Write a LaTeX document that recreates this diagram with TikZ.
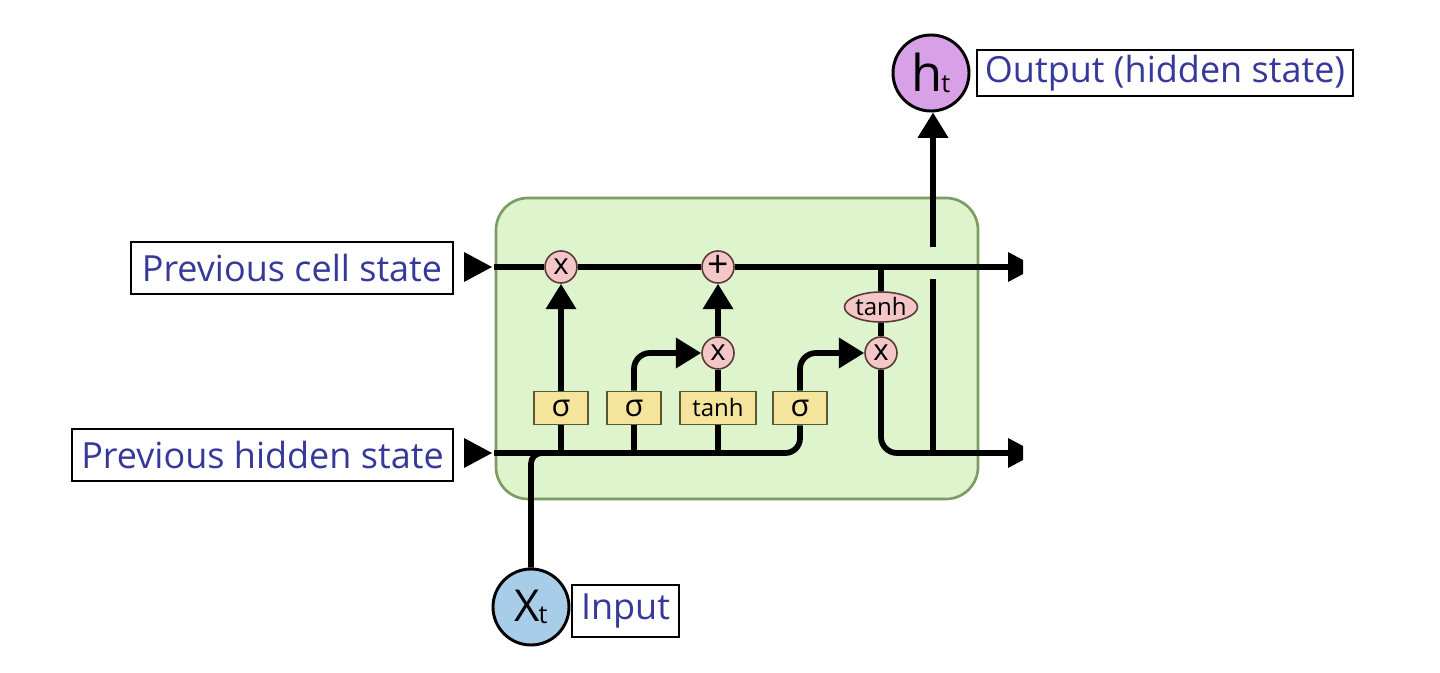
\documentclass[tikz,border=0pt]{standalone}
\usepackage{fontspec}
\setmainfont{Open Sans}
\usetikzlibrary{arrows.meta,shapes.geometric}
\definecolor{cellfill}{HTML}{DDF4CC}
\definecolor{cellline}{HTML}{7D9C63}
\definecolor{pinkc}{HTML}{F4C6C7}
\definecolor{opline}{HTML}{5A3A3A}
\definecolor{yellowc}{HTML}{F5E59C}
\definecolor{gateline}{HTML}{5E5630}
\definecolor{purplec}{HTML}{D8A0E6}
\definecolor{bluec}{HTML}{A8CDE9}
\definecolor{textblue}{HTML}{36399A}
\begin{document}
\begin{tikzpicture}[x=0.75pt,y=-0.75pt,
  wire/.style={line width=4.3pt, draw=black},
  arr/.style={wire, -{Triangle[length=19pt,width=22pt]}},
  opc/.style={circle, draw=opline, line width=1.2pt, fill=pinkc, minimum size=24pt, inner sep=0pt, font=\fontsize{22}{22}\selectfont},
  gatebox/.style={rectangle, draw=gateline, line width=1.2pt, fill=yellowc, minimum height=24.75pt, inner sep=0pt},
  lbl/.style={draw=black, line width=1.1pt, text=textblue, font=\fontsize{27}{32}\selectfont, inner sep=0pt},
  io/.style={circle, draw=black, line width=2.2pt, minimum size=57pt, inner sep=0pt}
]
\useasboundingbox (0,0) rectangle (1440,673);

% cell body
\draw[fill=cellfill, draw=cellline, line width=2pt, rounded corners=24pt] (496,198) rectangle (978,499);

% operators
\node[opc] (m1) at (561,267) {\raisebox{1pt}{x}};
\node[opc, font=\fontsize{28}{28}\selectfont] (pl) at (718,267) {\raisebox{1pt}{+}};
\node[opc] (m2) at (718,353) {\raisebox{1pt}{x}};
\node[opc] (m3) at (881,353) {\raisebox{1pt}{x}};
\node[ellipse, draw=opline, line width=1.2pt, fill=pinkc, minimum width=54.75pt, minimum height=22.5pt, inner sep=0pt, font=\fontsize{18}{18}\selectfont] (th) at (881,307) {tanh};

% gates
\node[gatebox, minimum width=40.5pt, font=\fontsize{23}{23}\selectfont] (s1) at (561,408) {σ};
\node[gatebox, minimum width=40.5pt, font=\fontsize{23}{23}\selectfont] (s2) at (634,408) {σ};
\node[gatebox, minimum width=57pt, font=\fontsize{18}{18}\selectfont] (tb) at (718,408) {tanh};
\node[gatebox, minimum width=40.5pt, font=\fontsize{23}{23}\selectfont] (s3) at (800,408) {σ};

% inputs / outputs
\node[io, fill=purplec] (ht) at (931,73) {\fontsize{38}{38}\selectfont h\hspace{-1pt}\raisebox{-1pt}{\fontsize{19}{19}\selectfont t}};
\node[io, fill=bluec] (xt) at (531,607) {\fontsize{33}{33}\selectfont X\hspace{-1pt}\raisebox{-1pt}{\fontsize{19}{19}\selectfont t}};

% labels
\node[lbl, minimum width=241.5pt, minimum height=39pt] (lcell) at (292,268) {Previous cell state};
\node[lbl, minimum width=285.75pt, minimum height=39pt] (lhid) at (262.5,455) {Previous hidden state};
\node[lbl, minimum width=282pt, minimum height=34.5pt] (lout) at (1165,73) {Output (hidden state)};
\node[lbl, minimum width=80.25pt, minimum height=39pt] (lin) at (625.5,611) {Input};

% coordinates
\coordinate (cin) at (494,267);
\coordinate (cout) at (1010,267);
\coordinate (hin) at (494,453);
\coordinate (hout) at (1010,453);
\coordinate (xin) at (575,453);
\coordinate (j1) at (933,453);
\coordinate (g1) at (933,279);
\coordinate (g2) at (933,247);

% cell state line
\draw[wire] (cin) -- (m1.west);
\draw[wire] (m1.east) -- (pl.west);
\draw[wire] (pl.east) -- (cout);
\draw[wire] (th.north) -- (th.north |- cin);
\draw[wire] (th.south) -- (m3.north);

% hidden line
\draw[wire, rounded corners=11pt] (hin) -| (s3.south);
\draw[wire] (s1.south) -- (s1.south |- hin);
\draw[wire] (s2.south) -- (s2.south |- hin);
\draw[wire] (tb.south) -- (tb.south |- hin);
\draw[wire, rounded corners=8pt] (xt.north) |- (xin);

% gate outputs
\draw[arr] (s1.north) -- (m1.south);
\draw[arr, rounded corners=12pt] (s2.north) |- (m2.west);
\draw[wire] (tb.north) -- (m2.south);
\draw[arr] (m2.north) -- (pl.south);
\draw[arr, rounded corners=12pt] (s3.north) |- (m3.west);

% output path
\draw[wire, rounded corners=12pt] (m3.south) |- (hout);
\draw[wire] (j1) -- (g1);
\draw[arr] (g2) -- (g2 |- ht.south);

% input arrowheads (left) and clipped output arrowheads (right)
\fill (464,252) -- (492,267) -- (464,282) -- cycle;
\fill (464,438) -- (492,453) -- (464,468) -- cycle;
\fill (1008,252) -- (1023,260) -- (1023,274) -- (1008,282) -- cycle;
\fill (1008,438) -- (1023,446) -- (1023,460) -- (1008,468) -- cycle;
\end{tikzpicture}
\end{document}
